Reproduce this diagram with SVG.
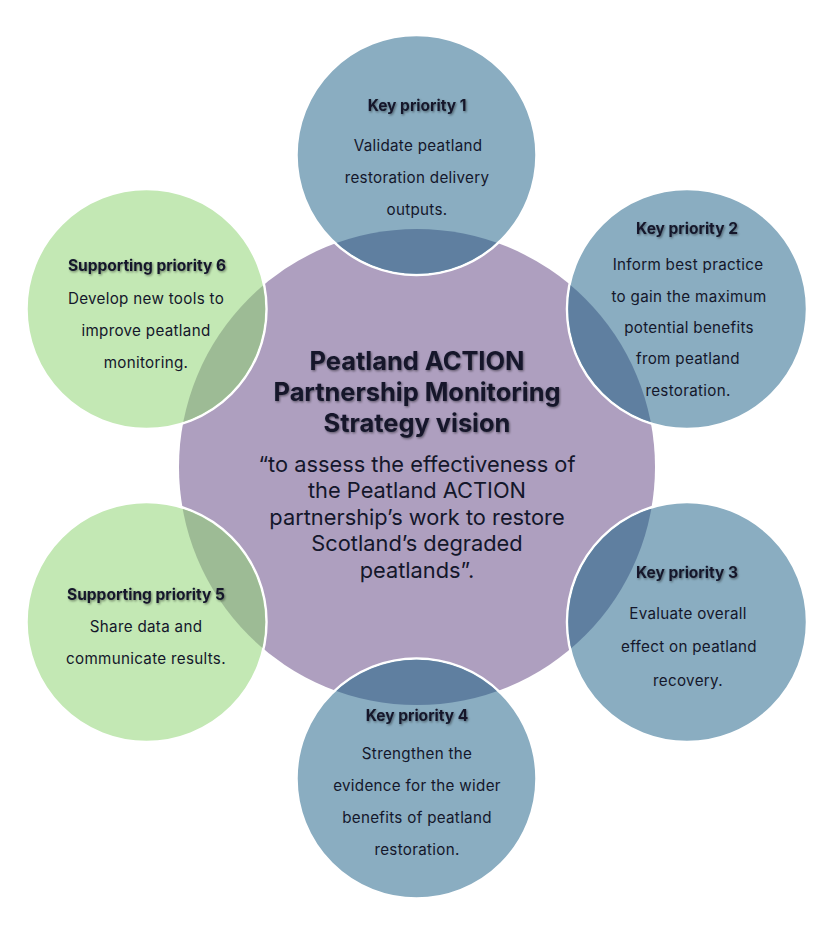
<svg xmlns="http://www.w3.org/2000/svg" width="830" height="933" viewBox="0 0 830 933">
<style>
text{font-family:"Inter","Noto Sans","Liberation Sans",sans-serif;text-anchor:middle;fill:#14172b}
.h{font-size:15.500px;font-weight:700;filter:url(#sh)}
.b{font-size:15.200px;letter-spacing:.3px}
.t{font-size:25.400px;font-weight:700;filter:url(#sh)}
.v{font-size:21.800px}
.blue{fill:#8aadc1;stroke:#fff;stroke-width:2.500}
.green{fill:#c3e8b4;stroke:#fff;stroke-width:2.500}
.lb{fill:#5f7fa0}
.lg{fill:#9dbb95}
</style>
<defs>
<filter id="sh" x="-10%" y="-30%" width="120%" height="170%"><feDropShadow dx="1" dy="1.200" stdDeviation="1" flood-color="#000" flood-opacity=".45"/></filter>
<clipPath id="c1"><circle cx="416.500" cy="155" r="118.750"/></clipPath>
<clipPath id="c2"><circle cx="687" cy="309" r="118.750"/></clipPath>
<clipPath id="c3"><circle cx="687" cy="622" r="118.750"/></clipPath>
<clipPath id="c4"><circle cx="416.500" cy="778.500" r="118.750"/></clipPath>
<clipPath id="c5"><circle cx="146.500" cy="622" r="118.750"/></clipPath>
<clipPath id="c6"><circle cx="146.500" cy="309" r="118.750"/></clipPath>
</defs>
<rect width="830" height="933" fill="#fff"/>
<g id="center"><circle cx="417" cy="467" r="238" fill="#ae9fbf"/></g>
<g id="kp1"><circle class="blue" cx="416.500" cy="155" r="120"/><circle class="lb" cx="417" cy="467" r="238" clip-path="url(#c1)"/>
<text class="h" x="417" y="111">Key priority 1</text><text class="b" x="418" y="151">Validate peatland</text><text class="b" x="417" y="183">restoration delivery</text><text class="b" x="417" y="215">outputs.</text></g>
<g id="kp2"><circle class="blue" cx="687" cy="309" r="120"/><circle class="lb" cx="417" cy="467" r="238" clip-path="url(#c2)"/>
<text class="h" x="687" y="234">Key priority 2</text><text class="b" x="688" y="270">Inform best practice</text><text class="b" x="689" y="302">to gain the maximum</text><text class="b" x="689" y="333">potential benefits</text><text class="b" x="688" y="364">from peatland</text><text class="b" x="688" y="396">restoration.</text></g>
<g id="kp3"><circle class="blue" cx="687" cy="622" r="120"/><circle class="lb" cx="417" cy="467" r="238" clip-path="url(#c3)"/>
<text class="h" x="687" y="578">Key priority 3</text><text class="b" x="688" y="619">Evaluate overall</text><text class="b" x="689" y="652">effect on peatland</text><text class="b" x="688" y="686">recovery.</text></g>
<g id="kp4"><circle class="blue" cx="416.500" cy="778.500" r="120"/><circle class="lb" cx="417" cy="467" r="238" clip-path="url(#c4)"/>
<text class="h" x="417" y="721">Key priority 4</text><text class="b" x="417" y="759">Strengthen the</text><text class="b" x="417" y="791">evidence for the wider</text><text class="b" x="417" y="823">benefits of peatland</text><text class="b" x="417" y="855">restoration.</text></g>
<g id="sp5"><circle class="green" cx="146.500" cy="622" r="120"/><circle class="lg" cx="417" cy="467" r="238" clip-path="url(#c5)"/>
<text class="h" x="146" y="600">Supporting priority 5</text><text class="b" x="146" y="632">Share data and</text><text class="b" x="146" y="664">communicate results.</text></g>
<g id="sp6"><circle class="green" cx="146.500" cy="309" r="120"/><circle class="lg" cx="417" cy="467" r="238" clip-path="url(#c6)"/>
<text class="h" x="147" y="271">Supporting priority 6</text><text class="b" x="146" y="304">Develop new tools to</text><text class="b" x="146" y="336">improve peatland</text><text class="b" x="146" y="368">monitoring.</text></g>
<g id="vision"><text class="t" x="417" y="370">Peatland ACTION</text><text class="t" x="417" y="401">Partnership Monitoring</text><text class="t" x="417" y="432">Strategy vision</text>
<text class="v" x="417" y="472">“to assess the effectiveness of</text><text class="v" x="417" y="498">the Peatland ACTION</text><text class="v" x="417" y="525">partnership’s work to restore</text><text class="v" x="417" y="551">Scotland’s degraded</text><text class="v" x="417" y="578">peatlands”.</text></g>
<g id="connectors"/>
</svg>
